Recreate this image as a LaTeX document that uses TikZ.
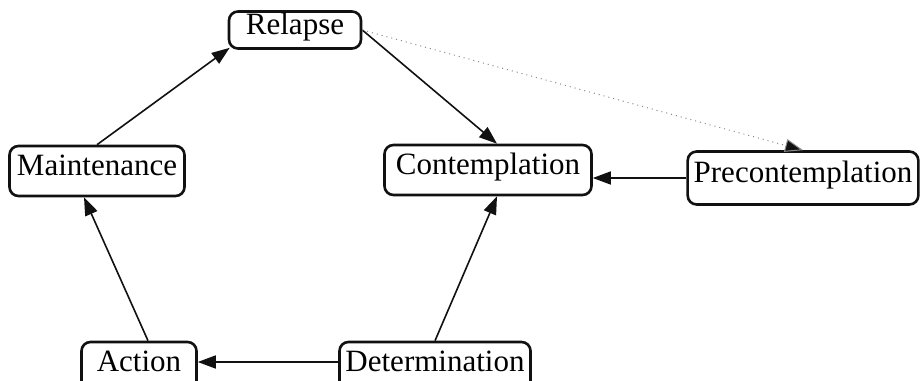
\documentclass[tikz,border=0pt]{standalone}
\usepackage{fontspec}
\setmainfont{Liberation Serif}
\usepackage{tikz}
\usetikzlibrary{positioning, arrows.meta, calc}
\definecolor{inkx}{HTML}{111111}
\definecolor{dotx}{HTML}{8A8A8A}

\begin{document}
\begin{tikzpicture}[
  x=0.5pt, y=-0.5pt,
  font=\fontsize{15.5}{18}\selectfont,
  box/.style={rectangle, draw=inkx, line width=1.3pt, rounded corners=4.5pt, minimum height=25pt, inner xsep=3pt, inner ysep=2pt, text height=0.68em, text depth=0.22em, align=center},
  arr/.style={-{Triangle[length=9pt, width=6.5pt]}, line width=0.8pt, draw=inkx},
  hint/.style={-{Triangle[length=9pt, width=6.5pt, fill=inkx]}, line width=0.5pt, draw=dotx, dotted},
]
\useasboundingbox (0,0) rectangle (920,380);
\clip (0,0) rectangle (920,380);

\node[box, minimum width=66pt, minimum height=18.5pt] (rel) at (295,30) {Relapse};
\node[box, minimum width=87.5pt] (mai) at (97,171) {Maintenance};
\node[box, minimum width=103.5pt] (con) at (488,170) {Contemplation};
\node[box, minimum width=115pt, minimum height=26.5pt] (pre) at (803,178) {Precontemplation};
\node[box, minimum width=57.5pt] (act) at (139,367) {Action};
\node[box, minimum width=95pt] (det) at (435,367) {Determination};

\draw[arr] ([xshift=4.5pt]act.north) -- ([xshift=-6.5pt]mai.south);
\draw[arr] (mai.north) -- ([xshift=1pt, yshift=1pt]rel.south west);
\draw[arr] (rel.east) -- ([xshift=4.5pt]con.north);
\draw[hint] (rel.east) -- (pre.north);
\draw[arr] (pre.west) -- (pre.west -| con.east);
\draw[arr] (det.north) -- ([xshift=4.5pt]con.south);
\draw[arr] ([yshift=2.5pt]det.west) -- ([yshift=2.5pt]act.east);
\end{tikzpicture}
\end{document}
